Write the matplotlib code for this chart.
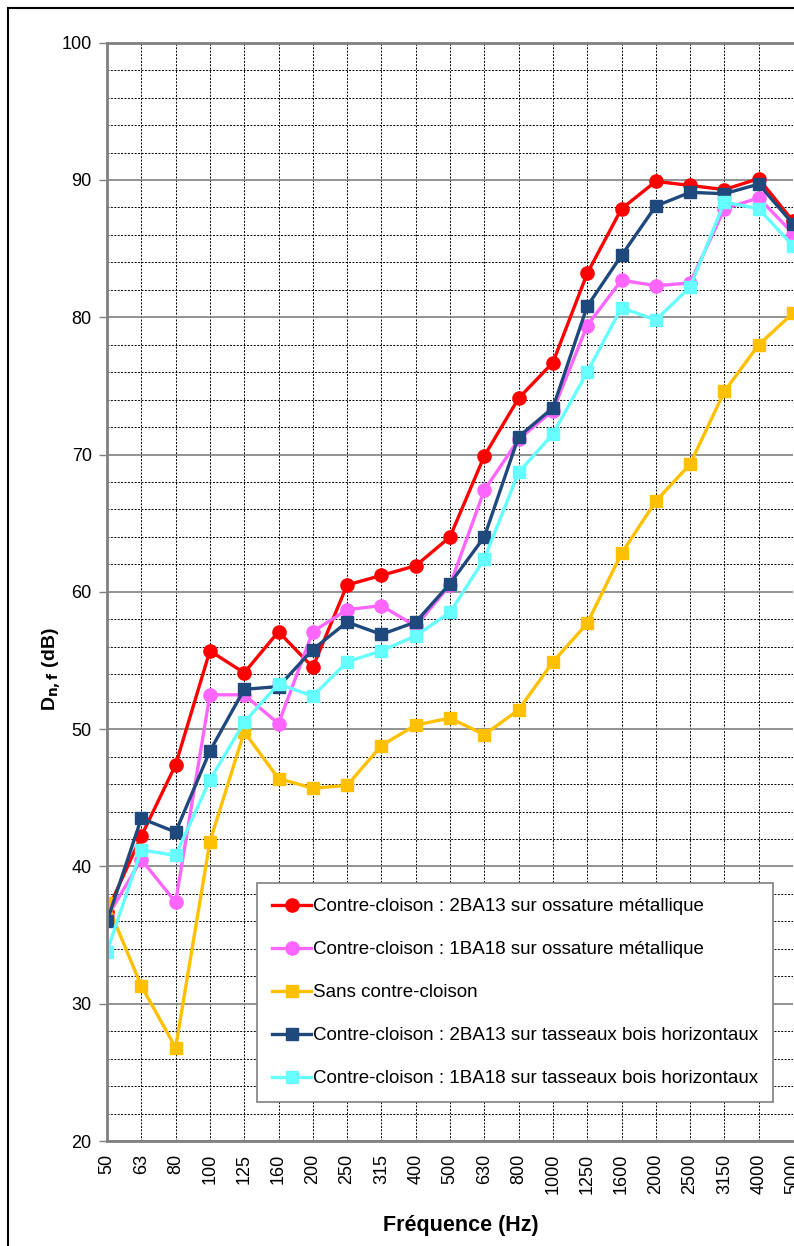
import matplotlib
matplotlib.use("Agg")
import matplotlib.pyplot as plt
import matplotlib.patches as patches
from matplotlib.ticker import MultipleLocator

plt.rcParams['font.family'] = ['Liberation Sans', 'DejaVu Sans']

# Données
freqs = ['50', '63', '80', '100', '125', '160', '200', '250', '315', '400', '500',
         '630', '800', '1000', '1250', '1600', '2000', '2500', '3150', '4000', '5000']

rouge = [36.7, 42.2, 47.4, 55.7, 54.1, 57.1, 54.5, 60.5, 61.2, 61.9, 64.0,
         69.9, 74.1, 76.7, 83.2, 87.9, 89.9, 89.6, 89.3, 90.1, 87.0]
rose = [36.3, 40.5, 37.4, 52.5, 52.5, 50.4, 57.1, 58.7, 59.0, 57.5, 60.5,
        67.4, 71.1, 73.2, 79.4, 82.7, 82.3, 82.5, 87.9, 88.7, 86.1]
sans = [37.3, 31.3, 26.8, 41.8, 49.8, 46.4, 45.7, 45.9, 48.8, 50.3, 50.8,
        49.6, 51.4, 54.9, 57.7, 62.8, 66.6, 69.3, 74.6, 78.0, 80.3]
marine = [36.0, 43.5, 42.5, 48.4, 52.9, 53.1, 55.8, 57.8, 56.9, 57.8, 60.6,
          64.0, 71.3, 73.4, 80.8, 84.5, 88.1, 89.1, 89.0, 89.7, 86.8]
cyan = [33.8, 41.2, 40.8, 46.3, 50.5, 53.3, 52.4, 54.9, 55.7, 56.8, 58.5,
        62.4, 68.7, 71.5, 76.0, 80.7, 79.8, 82.2, 88.4, 87.9, 85.2]

series = [
    ("Contre-cloison : 2BA13 sur ossature métallique", rouge, '#FF0000', 'o'),
    ("Contre-cloison : 1BA18 sur ossature métallique", rose, '#FF66FF', 'o'),
    ("Sans contre-cloison", sans, '#FFC000', 's'),
    ("Contre-cloison : 2BA13 sur tasseaux bois horizontaux", marine, '#1F497D', 's'),
    ("Contre-cloison : 1BA18 sur tasseaux bois horizontaux", cyan, '#66FFFF', 's'),
]

W, H = 794, 1246
fig = plt.figure(figsize=(W / 100, H / 100), dpi=100)
ax = fig.add_axes([107 / W, 1 - 1141 / H, 686 / W, 1098.3 / H])

x = list(range(len(freqs)))
for label, vals, col, mk in series:
    ms = 9.5 if mk == 'o' else 8.5
    ax.plot(x, vals, color=col, lw=2.4, marker=mk, ms=ms, mec=col, mfc=col, label=label)

ax.set_xlim(0, len(freqs) - 1)
ax.set_ylim(20, 100)
ax.set_xticks(x)
ax.set_xticklabels(freqs, rotation=90, fontsize=13)
ax.yaxis.set_major_locator(MultipleLocator(10))
ax.yaxis.set_minor_locator(MultipleLocator(2))
ax.tick_params(axis='y', which='major', length=6, width=1, color='#808080', labelsize=13, pad=5)
ax.tick_params(axis='y', which='minor', length=0)
ax.tick_params(axis='x', length=0, pad=9)

# Grille
ax.grid(True, axis='y', which='major', color='#808080', lw=1.2, ls='-')
ax.grid(True, axis='y', which='minor', color='black', lw=0.7, ls=(0, (2, 1.5)))
ax.grid(True, axis='x', which='major', color='black', lw=0.7, ls=(0, (2, 1.5)))
ax.set_axisbelow(True)

for s in ['left', 'top', 'bottom']:
    ax.spines[s].set_color('#808080')
    ax.spines[s].set_linewidth(2)
ax.spines['right'].set_visible(False)

leg = ax.legend(loc='upper left', bbox_to_anchor=(0.2187, 0.2349), fontsize=13.5,
                frameon=True, fancybox=False, edgecolor='#808080', framealpha=1,
                handlelength=2.1, handletextpad=0.1, labelspacing=1.38,
                borderpad=0.8, borderaxespad=0)
leg.get_frame().set_linewidth(1.2)

# Titres des axes
fig.text(461 / W, 1 - 1226 / H, "Fréquence (Hz)", ha='center', va='center',
         fontsize=15.5, fontweight='bold')
fig.text(52 / W, 1 - 669 / H, r"D$_{\mathbf{n,f}}$ (dB)", ha='center', va='center',
         rotation=90, fontsize=14, fontweight='bold')

# Cadre extérieur
fig.patches.append(patches.Rectangle((8 / W, -0.1), 1.2, 1.1 - 8 / H,
                                     transform=fig.transFigure, fill=False,
                                     edgecolor='black', lw=1.5))

fig.savefig("out.png", dpi=100)
